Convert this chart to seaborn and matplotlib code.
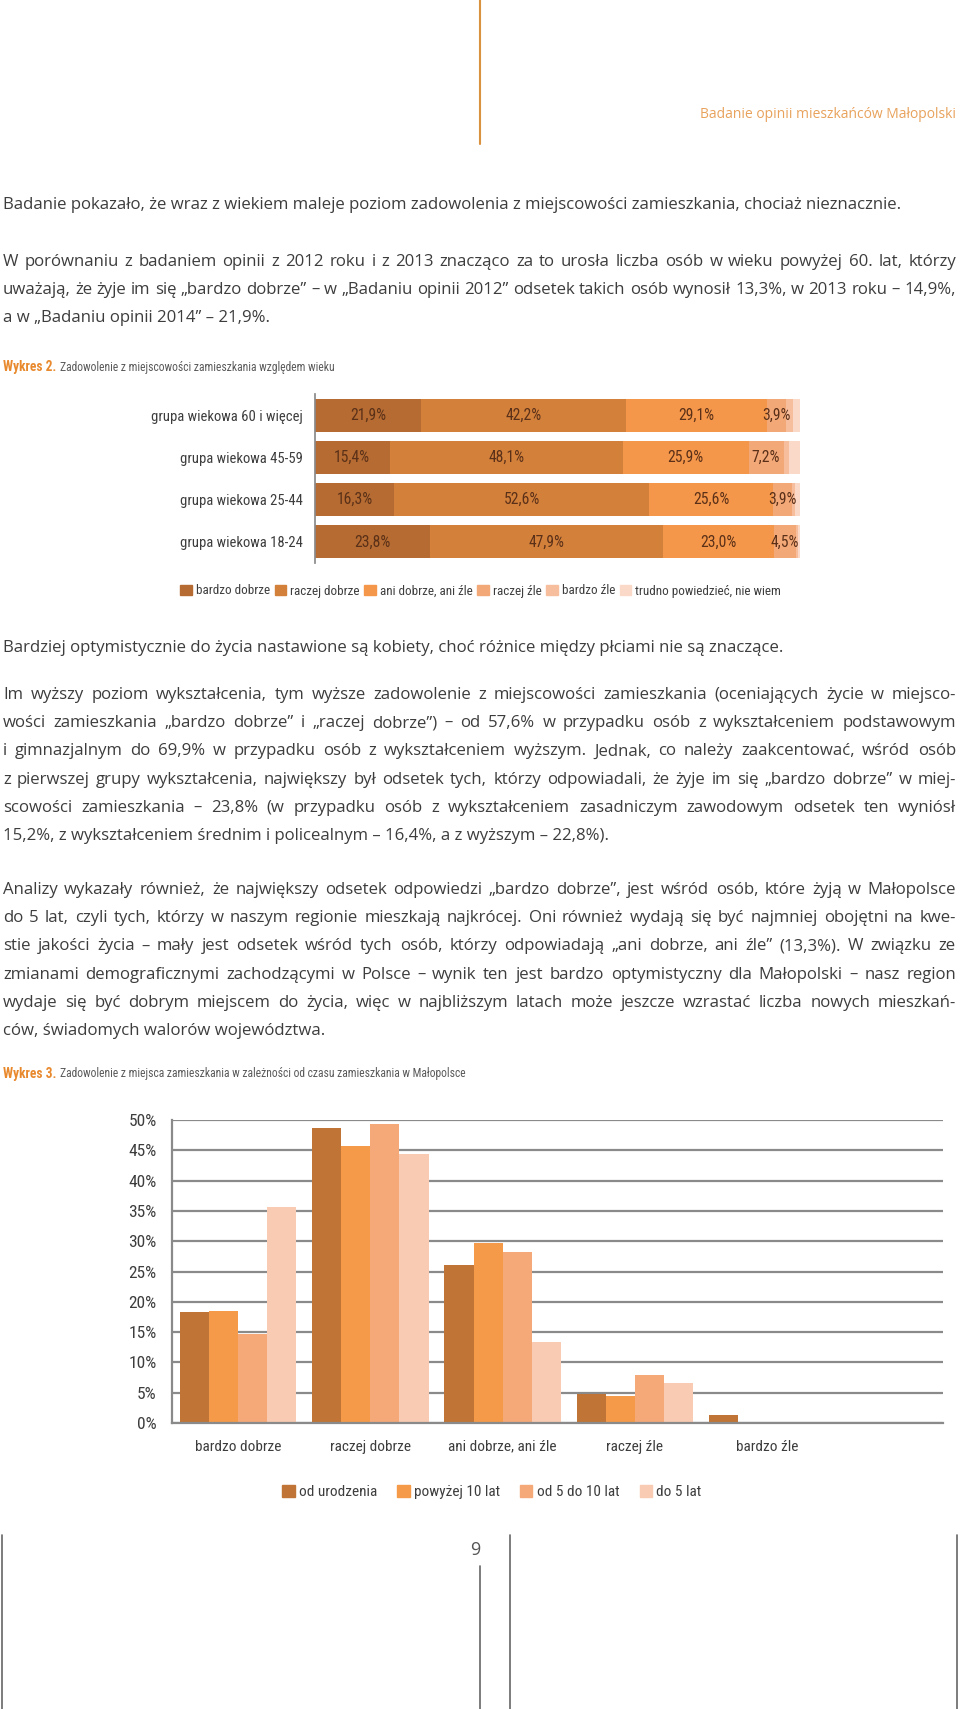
import numpy as np
import pandas as pd
import matplotlib
matplotlib.use("Agg")
import matplotlib.pyplot as plt
from matplotlib.patches import Patch
import seaborn as sns

W, H = 960, 1709

# Wykres 2 - zadowolenie wg wieku (%)
age_groups = ["grupa wiekowa 60 i więcej", "grupa wiekowa 45-59",
              "grupa wiekowa 25-44", "grupa wiekowa 18-24"]
answers = ["bardzo dobrze", "raczej dobrze", "ani dobrze, ani źle",
           "raczej źle", "bardzo źle", "trudno powiedzieć, nie wiem"]
bardzo_dobrze = [21.9, 15.4, 16.3, 23.8]
raczej_dobrze = [42.2, 48.1, 52.6, 47.9]
ani_ani = [29.1, 25.9, 25.6, 23.0]
raczej_zle = [3.9, 7.2, 3.9, 4.5]
bardzo_zle = [1.5, 1.2, 0.6, 0.3]
trudno = [1.4, 2.2, 1.0, 0.5]

# Wykres 3 - zadowolenie wg czasu zamieszkania (%)
answer_cats = ["bardzo dobrze", "raczej dobrze", "ani dobrze, ani źle", "raczej źle", "bardzo źle"]
residence = ["od urodzenia", "powyżej 10 lat", "od 5 do 10 lat", "do 5 lat"]
od_urodzenia = [18.3, 48.6, 26.1, 4.8, 1.4]
powyzej_10 = [18.5, 45.7, 29.7, 4.5, 0.0]
od_5_do_10 = [14.7, 49.3, 28.2, 8.0, 0.0]
do_5 = [35.7, 44.4, 13.3, 6.6, 0.0]

seg_colors = ["#B56B31", "#D3803B", "#F5974A", "#F3A878", "#F7BE9E", "#FAD9C8"]
res_colors = ["#C07436", "#F59A48", "#F5A979", "#F8CBB2"]

sns.set_theme(style="white")
narrow = ["Roboto Condensed", "Liberation Sans Narrow", "Lato", "DejaVu Sans"]
body = ["Open Sans", "DejaVu Sans"]
plt.rcParams["font.family"] = narrow

TXT = "#3d3d3d"
GRAY = "#8a8a8a"

fig = plt.figure(figsize=(W / 100, H / 100), dpi=100)
pg = fig.add_axes([0, 0, 1, 1])
pg.set_xlim(0, W)
pg.set_ylim(H, 0)
pg.axis("off")
renderer = fig.canvas.get_renderer()


def fit(s, target, family=narrow, weight="normal"):
    # font size that makes the string about target px wide
    t = pg.text(0, 0, s, fontsize=10, family=family, fontweight=weight)
    w = t.get_window_extent(renderer).width
    t.remove()
    return 10 * target / w


def put_line(y, s, size, justify=False, x0=3, x1=956):
    if not justify:
        pg.text(x0, y, s, fontsize=size, family=body, color=TXT, va="center")
        return
    words = s.split(" ")
    arts = [pg.text(0, y, w, fontsize=size, family=body, color=TXT, va="center") for w in words]
    widths = [a.get_window_extent(renderer).width for a in arts]
    gap = (x1 - x0 - sum(widths)) / (len(words) - 1)
    x = x0
    for a, w in zip(arts, widths):
        a.set_x(x)
        x += w + gap


def paragraph(y0, lines, size, step=28.2):
    for i, ln in enumerate(lines):
        put_line(y0 + i * step, ln, size, justify=(i < len(lines) - 1))


def caption(y, num, s):
    c = pg.text(3, y, num, fontsize=fit(num, 54, weight="bold"), fontweight="bold",
                color="#E8892D", va="center")
    cx = 3 + c.get_window_extent(renderer).width + 4
    pg.text(cx, y, s, fontsize=cap_fs, color="#5a5a5a", va="center")


p1 = "Badanie pokazało, że wraz z wiekiem maleje poziom zadowolenia z miejscowości zamieszkania, chociaż nieznacznie."
fs = fit(p1, 905, family=body)
cap_fs = fit("Zadowolenie z miejscowości zamieszkania względem wieku", 272)
row_fs = fit("grupa wiekowa 60 i więcej", 150)
val_fs = fit("42,2%", 36)
leg2_fs = fit("bardzo dobrze", 73)
tick3_fs = fit("50%", 28)
cat3_fs = fit("bardzo dobrze", 86)
leg3_fs = fit("od urodzenia", 78)

# header
pg.plot([480, 480], [0, 144], color="#D9923F", lw=1.5)
pg.text(956, 115, "Badanie opinii mieszkańców Małopolski", fontsize=10, family=body,
        color="#E8A25C", ha="right", va="center")

put_line(205, p1, fs)
paragraph(262, [
    "W porównaniu z badaniem opinii z 2012 roku i z 2013 znacząco za to urosła liczba osób w wieku powyżej 60. lat, którzy",
    "uważają, że żyje im się „bardzo dobrze” – w „Badaniu opinii 2012” odsetek takich osób wynosił 13,3%, w 2013 roku – 14,9%,",
    "a w „Badaniu opinii 2014” – 21,9%.",
], fs)

caption(367, "Wykres 2.", "Zadowolenie z miejscowości zamieszkania względem wieku")

# ---- Wykres 2: stacked horizontal bars
ax2 = fig.add_axes([315 / W, 1 - 563 / H, (800 - 315) / W, 169 / H])
ax2.patch.set_alpha(0)
segments = [bardzo_dobrze, raczej_dobrze, ani_ani, raczej_zle, bardzo_zle, trudno]
left = np.zeros(len(age_groups))
for vals, col in zip(segments, seg_colors):
    sns.barplot(x=vals, y=age_groups, order=age_groups, orient="h", left=left, color=col,
                saturation=1, width=0.78, errorbar=None, linewidth=0, ax=ax2)
    for i, (l, v) in enumerate(zip(left, vals)):
        if v >= 3:
            ax2.text(l + v / 2, i, f"{v:.1f}%".replace(".", ","), ha="center", va="center",
                     fontsize=val_fs, color="#5a3018")
    left = left + np.array(vals)
ax2.set_xlim(0, 100)
ax2.set_ylim(3.5, -0.5)
ax2.set_xlabel("")
ax2.set_ylabel("")
ax2.xaxis.set_visible(False)
for s in ["top", "right", "bottom"]:
    ax2.spines[s].set_visible(False)
ax2.spines["left"].set_color(GRAY)
ax2.set_yticks(range(len(age_groups)))
ax2.set_yticklabels(age_groups, fontsize=row_fs, color=TXT)
ax2.set_yticks([-0.5, 0.5, 1.5, 2.5, 3.5], minor=True)
ax2.tick_params(axis="y", which="major", length=0, pad=9)
ax2.tick_params(axis="y", which="minor", length=4, color=GRAY, direction="out")

h2 = [Patch(color=c) for c in seg_colors]
fig.legend(h2, answers, loc="center left", bbox_to_anchor=(174 / W, 1 - 591 / H), ncol=6,
           frameon=False, fontsize=leg2_fs, handlelength=0.9, handleheight=0.9,
           handletextpad=0.3, columnspacing=0.35, borderpad=0, labelcolor=TXT)

put_line(648, "Bardziej optymistycznie do życia nastawione są kobiety, choć różnice między płciami nie są znaczące.", fs)
paragraph(695, [
    "Im wyższy poziom wykształcenia, tym wyższe zadowolenie z miejscowości zamieszkania (oceniających życie w miejsco-",
    "wości zamieszkania „bardzo dobrze” i „raczej dobrze”) – od 57,6% w przypadku osób z wykształceniem podstawowym",
    "i gimnazjalnym do 69,9% w przypadku osób z wykształceniem wyższym. Jednak, co należy zaakcentować, wśród osób",
    "z pierwszej grupy wykształcenia, największy był odsetek tych, którzy odpowiadali, że żyje im się „bardzo dobrze” w miej-",
    "scowości zamieszkania – 23,8% (w przypadku osób z wykształceniem zasadniczym zawodowym odsetek ten wyniósł",
    "15,2%, z wykształceniem średnim i policealnym – 16,4%, a z wyższym – 22,8%).",
], fs)
paragraph(890, [
    "Analizy wykazały również, że największy odsetek odpowiedzi „bardzo dobrze”, jest wśród osób, które żyją w Małopolsce",
    "do 5 lat, czyli tych, którzy w naszym regionie mieszkają najkrócej. Oni również wydają się być najmniej obojętni na kwe-",
    "stie jakości życia – mały jest odsetek wśród tych osób, którzy odpowiadają „ani dobrze, ani źle” (13,3%). W związku ze",
    "zmianami demograficznymi zachodzącymi w Polsce – wynik ten jest bardzo optymistyczny dla Małopolski – nasz region",
    "wydaje się być dobrym miejscem do życia, więc w najbliższym latach może jeszcze wzrastać liczba nowych mieszkań-",
    "ców, świadomych walorów województwa.",
], fs)

caption(1074, "Wykres 3.", "Zadowolenie z miejsca zamieszkania w zależności od czasu zamieszkania w Małopolsce")

# ---- Wykres 3: grouped bars
df3 = pd.DataFrame({
    "kategoria": answer_cats * 4,
    "grupa": [g for g in residence for _ in answer_cats],
    "odsetek": od_urodzenia + powyzej_10 + od_5_do_10 + do_5,
})
ax3 = fig.add_axes([172 / W, 1 - 1423 / H, (943 - 172) / W, (1423 - 1120) / H])
ax3.patch.set_alpha(0)
sns.barplot(data=df3, x="kategoria", y="odsetek", hue="grupa", order=answer_cats,
            hue_order=residence, palette=res_colors, saturation=1, width=0.88,
            errorbar=None, linewidth=0, ax=ax3)
ax3.set_ylim(0, 50)
ax3.set_xlim(-0.5, 5.33)
ax3.set_yticks(range(0, 51, 5))
ax3.set_yticklabels([f"{v}%" for v in range(0, 51, 5)], fontsize=tick3_fs, color=TXT)
ax3.yaxis.grid(True, color=GRAY, lw=1.6)
ax3.set_axisbelow(True)
ax3.set_xlabel("")
ax3.set_ylabel("")
for s in ["top", "right"]:
    ax3.spines[s].set_visible(False)
for s in ["left", "bottom"]:
    ax3.spines[s].set_color(GRAY)
    ax3.spines[s].set_linewidth(1.6)
ax3.set_xticks(range(len(answer_cats)))
ax3.set_xticklabels(answer_cats, fontsize=cat3_fs, color=TXT)
ax3.set_xticks(np.arange(-0.5, 5, 1), minor=True)
ax3.tick_params(axis="x", which="major", length=0, pad=12)
ax3.tick_params(axis="x", which="minor", length=7, color=GRAY, width=1.2, direction="out")
ax3.tick_params(axis="y", which="major", length=6, color=GRAY, width=1.2, direction="out", pad=5)
ax3.get_legend().remove()

h3 = [Patch(color=c) for c in res_colors]
fig.legend(h3, residence, loc="center", bbox_to_anchor=(492 / W, 1 - 1492 / H), ncol=4,
           frameon=False, fontsize=leg3_fs, handlelength=0.8, handleheight=0.8,
           handletextpad=0.3, columnspacing=1.3, borderpad=0, labelcolor=TXT)

# page footer
for x, y0 in [(2, 1535), (510, 1535), (957, 1535), (480, 1566)]:
    pg.plot([x, x], [y0, H], color="#666666", lw=1.2)
pg.text(480, 1550, "9", fontsize=13, family=body, color="#555555", ha="right", va="center")

fig.savefig("out.png", dpi=100)
